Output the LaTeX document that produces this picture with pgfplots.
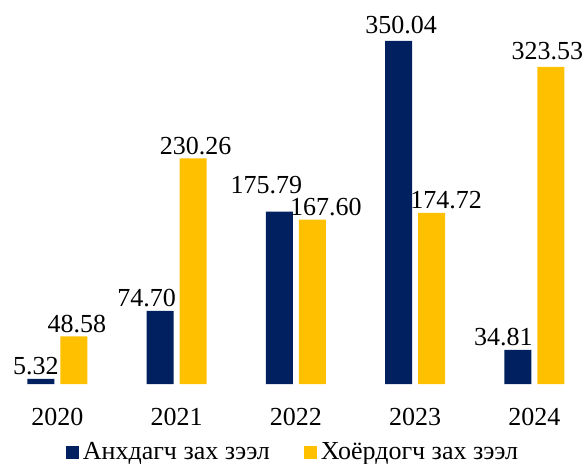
\documentclass[border=0pt]{standalone}
\usepackage{pgfplots}
\pgfplotsset{compat=1.18}
\usepackage{fontspec}
\setmainfont{Liberation Serif}
\newfontfamily\serf{Liberation Serif}
\definecolor{navy}{HTML}{002060}
\definecolor{gold}{HTML}{FFC000}
\begin{document}
\begin{tikzpicture}
\begin{axis}[
  name=ax,
  scale only axis,
  width=294pt, height=192pt,
  xmin=-0.482, xmax=4.449,
  ymin=0, ymax=391.8,
  ybar=3pt, bar width=13.5pt,
  axis line style={draw=none},
  ytick=\empty,
  xtick={0,1,2,3,4},
  xticklabels={2020,2021,2022,2023,2024},
  xtick style={draw=none},
  xticklabel style={font=\serf\fontsize{13}{15}\selectfont, inner sep=0pt, yshift=-7.5pt},
  clip=false,
  point meta=explicit symbolic,
  visualization depends on={value \thisrow{dx} \as \dx},
  visualization depends on={value \thisrow{dy} \as \dy},
  nodes near coords,
  every node near coord/.append style={font=\serf\fontsize{13}{15}\selectfont, inner sep=0pt, anchor=south, xshift=\dx*1pt, yshift=1.75pt+\dy*1pt, text=black},
  legend columns=2,
  legend style={draw=none, at={(0.5,0)}, anchor=north, yshift=-27pt, font=\serf\fontsize{13}{15}\selectfont, inner sep=0pt, /tikz/every even column/.append style={column sep=15pt}},
  legend image code/.code={\fill[#1] (0pt,-3.25pt) rectangle (6.5pt,3.25pt);},
]
\addplot[fill=navy, draw=none] table[x=x, y=y, meta=label] {
x y dx dy label
0 5.32 -2.5 0 5.32
1 74.70 -6.75 0 74.70
2 175.79 -6.5 6.75 175.79
3 350.04 1.25 1.75 350.04
4 34.81 -7.25 0 34.81
};
\addlegendentry{\serf Анхдагч зах зээл}
\addplot[fill=gold, draw=none] table[x=x, y=y, meta=label] {
x y dx dy label
0 48.58 1.5 0 48.58
1 230.26 1.25 0 230.26
2 167.60 6.75 0 167.60
3 174.72 7.25 0 174.72
4 323.53 -1.75 1.75 323.53
};
\addlegendentry{\serf Хоёрдогч зах зээл}
\end{axis}
\pgfresetboundingbox
\path (ax.north west) rectangle ([yshift=-39.5pt]ax.south east);
\end{tikzpicture}
\end{document}
